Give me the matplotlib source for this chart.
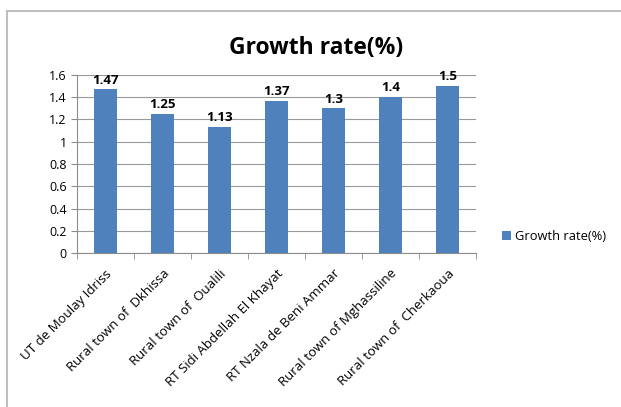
import matplotlib
matplotlib.use('Agg')
import matplotlib.pyplot as plt
from matplotlib.patches import Rectangle
import numpy as np

plt.rcParams['font.family'] = ['Open Sans', 'DejaVu Sans']

categories = ['UT de Moulay Idriss', 'Rural town of  Dkhissa', 'Rural town of  Oualili',
              'RT Sidi Abdellah El Khayat', 'RT Nzala de Beni Ammar',
              'Rural town of Mghassiline', 'Rural town of  Cherkaoua']
growth = [1.47, 1.25, 1.13, 1.37, 1.3, 1.4, 1.5]
yticks = [0, 0.2, 0.4, 0.6, 0.8, 1, 1.2, 1.4, 1.6]
ytick_labels = ['0', '0.2', '0.4', '0.6', '0.8', '1', '1.2', '1.4', '1.6']

fig = plt.figure(figsize=(6.21, 4.07), dpi=100)
fig.patches.append(Rectangle((0.011, -0.1), 1.2, 1.073, transform=fig.transFigure,
                             fill=False, edgecolor='#bfbfbf', linewidth=1.5))
ax = fig.add_axes([0.124, 0.378, 0.6425, 0.438])

x = np.arange(len(categories))
bars = ax.bar(x, growth, width=0.39, color='#4F81BD', label='Growth rate(%)', zorder=3)

for b, v in zip(bars, growth):
    ax.annotate(f'{v:g}', xy=(b.get_x() + b.get_width() / 2, b.get_height()),
                xytext=(0, 2), textcoords='offset points', ha='center', va='bottom',
                fontsize=9.5, fontweight='bold')

ax.set_xlim(-0.5, len(categories) - 0.5)
ax.set_ylim(0, 1.6)
ax.set_yticks(yticks)
ax.set_yticklabels(ytick_labels, fontsize=9)
ax.yaxis.grid(True, color='#999999', linewidth=0.8, zorder=0)

ax.set_xticks(x)
ax.set_xticklabels(categories, rotation=45, ha='right', rotation_mode='anchor', fontsize=9.5)
ax.tick_params(axis='x', which='major', length=0, pad=10)
ax.set_xticks(np.arange(-0.5, len(categories)), minor=True)
ax.tick_params(axis='x', which='minor', length=4, color='#8c8c8c', direction='out')
ax.tick_params(axis='y', length=4, color='#8c8c8c', direction='out')

for s in ['top', 'right']:
    ax.spines[s].set_visible(False)
for s in ['left', 'bottom']:
    ax.spines[s].set_color('#8c8c8c')

fig.text(0.509, 0.882, 'Growth rate(%)', ha='center', va='center', fontsize=16.5, fontweight='bold')
fig.legend(loc='center left', bbox_to_anchor=(0.79, 0.42), frameon=False, fontsize=9.3,
           handlelength=0.7, handleheight=0.7, handletextpad=0.3)

fig.savefig('out.png', dpi=100)
